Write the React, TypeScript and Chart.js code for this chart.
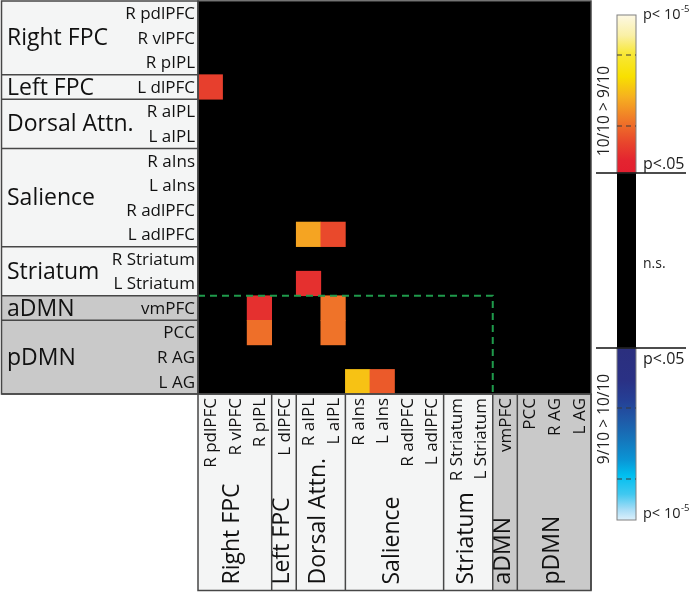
import React, { useEffect, useRef } from "react";
import { Chart, registerables } from "chart.js";

Chart.register(...registerables);

// ---- data ----
const regions = [
  "R pdlPFC", "R vlPFC", "R pIPL", "L dlPFC", "R aIPL", "L aIPL",
  "R aIns", "L aIns", "R adlPFC", "L adlPFC", "R Striatum", "L Striatum",
  "vmPFC", "PCC", "R AG", "L AG",
];
const groupNames = ["Right FPC", "Left FPC", "Dorsal Attn.", "Salience", "Striatum", "aDMN", "pDMN"];
const groupSizes = [3, 1, 2, 4, 2, 1, 3];
const groupShaded = [false, false, false, false, false, true, true];

// significant cells: row index, column index, strength (0 = p<.05 ... 1 = p<1e-5), 10/10 > 9/10
const cellRows = [3, 9, 9, 11, 12, 13, 12, 13, 15, 15];
const cellCols = [0, 4, 5, 4, 2, 2, 5, 5, 6, 7];
const cellLevels = [0.17, 0.45, 0.2, 0.12, 0.12, 0.31, 0.32, 0.32, 0.53, 0.25];

// dashed box around DMN rows
const boxRowStart = 12;
const boxColEnd = 12;

// colour scales
const warmStops: [number, string][] = [
  [0, "#E31E2F"], [0.08, "#E42430"], [0.19, "#E8452C"], [0.34, "#F07A28"],
  [0.48, "#F6B020"], [0.61, "#F8E000"], [0.76, "#F8E83A"], [0.87, "#FAF0A5"], [1, "#FDF8E4"],
];
const coolStops: [number, string][] = [
  [0, "#2B2F7E"], [0.19, "#2A3185"], [0.3, "#253F95"], [0.42, "#1F5AA8"], [0.53, "#1575BB"],
  [0.65, "#0A95D5"], [0.74, "#00BFF0"], [0.85, "#40C8F0"], [0.94, "#A8DDF6"], [1, "#DDF0FB"],
];

const FONT = "'Open Sans', 'Noto Sans', sans-serif";

function hex(c: string) {
  return [parseInt(c.slice(1, 3), 16), parseInt(c.slice(3, 5), 16), parseInt(c.slice(5, 7), 16)];
}
function sample(stops: [number, string][], t: number) {
  for (let i = 1; i < stops.length; i++) {
    if (t <= stops[i][0]) {
      const [p0, c0] = stops[i - 1];
      const [p1, c1] = stops[i];
      const f = (t - p0) / (p1 - p0);
      const a = hex(c0), b = hex(c1);
      const m = a.map((v, k) => Math.round(v + (b[k] - v) * f));
      return `rgb(${m[0]},${m[1]},${m[2]})`;
    }
  }
  return stops[stops.length - 1][1];
}

const panelPlugin = {
  id: "panels",
  beforeDatasetsDraw(chart: any) {
    const { ctx, chartArea: a } = chart;
    ctx.save();
    ctx.fillStyle = "#000";
    ctx.fillRect(a.left, a.top, a.right - a.left, a.bottom - a.top);
    ctx.restore();
  },
  afterDatasetsDraw(chart: any) {
    const { ctx, chartArea: a, scales } = chart;
    const xs = scales.x, ys = scales.y;
    const yT = ys.getPixelForValue(boxRowStart);
    const xR = xs.getPixelForValue(boxColEnd - 0.5);
    ctx.save();
    ctx.strokeStyle = "#1F9A4B";
    ctx.lineWidth = 2;
    ctx.setLineDash([7, 5]);
    ctx.beginPath();
    ctx.moveTo(a.left, yT);
    ctx.lineTo(xR, yT);
    ctx.lineTo(xR, a.bottom);
    ctx.stroke();
    ctx.restore();
  },
  afterDraw(chart: any) {
    const { ctx, chartArea: a, scales } = chart;
    const xs = scales.x, ys = scales.y;
    const light = "#F4F5F5", shade = "#C9C9C9", line = "#474747";
    const panelLeft = 1.5, panelBottom = 590.5;
    const groupFont = `23px ${FONT}`;
    const labelFont = `17px ${FONT}`;
    ctx.save();

    // ---- left panel ----
    let r0 = 0;
    groupNames.forEach((g, gi) => {
      const top = ys.getPixelForValue(r0);
      const bot = ys.getPixelForValue(r0 + groupSizes[gi]);
      ctx.fillStyle = groupShaded[gi] ? shade : light;
      ctx.fillRect(panelLeft, top, a.left - panelLeft, bot - top);
      ctx.fillStyle = "#111";
      ctx.font = groupFont;
      ctx.textAlign = "left";
      ctx.textBaseline = "middle";
      ctx.fillText(g, 7, (top + bot) / 2 + 1);
      r0 += groupSizes[gi];
    });
    ctx.font = labelFont;
    ctx.textAlign = "right";
    ctx.textBaseline = "middle";
    ctx.fillStyle = "#111";
    regions.forEach((name, i) => {
      ctx.fillText(name, a.left - 3, ys.getPixelForValue(i + 0.5) + 1);
    });
    ctx.strokeStyle = line;
    ctx.lineWidth = 1.5;
    r0 = 0;
    groupSizes.forEach((s) => {
      r0 += s;
      const yy = ys.getPixelForValue(r0);
      ctx.beginPath();
      ctx.moveTo(panelLeft, yy);
      ctx.lineTo(a.left, yy);
      ctx.stroke();
    });
    ctx.strokeRect(panelLeft, a.top, a.left - panelLeft, a.bottom - a.top);

    // ---- bottom panel ----
    let c0 = 0;
    groupNames.forEach((g, gi) => {
      const l = xs.getPixelForValue(c0 - 0.5);
      const r = xs.getPixelForValue(c0 + groupSizes[gi] - 0.5);
      ctx.fillStyle = groupShaded[gi] ? shade : light;
      ctx.fillRect(l, a.bottom, r - l, panelBottom - a.bottom);
      ctx.save();
      ctx.translate((l + r) / 2 - 2, panelBottom - 6);
      ctx.rotate(-Math.PI / 2);
      ctx.fillStyle = "#111";
      ctx.font = groupFont;
      ctx.textAlign = "left";
      ctx.textBaseline = "middle";
      ctx.fillText(g, 0, 0);
      ctx.restore();
      c0 += groupSizes[gi];
    });
    regions.forEach((name, i) => {
      ctx.save();
      ctx.translate(xs.getPixelForValue(i) + 1, a.bottom + 4);
      ctx.rotate(-Math.PI / 2);
      ctx.fillStyle = "#111";
      ctx.font = labelFont;
      ctx.textAlign = "right";
      ctx.textBaseline = "middle";
      ctx.fillText(name, 0, 0);
      ctx.restore();
    });
    ctx.strokeStyle = line;
    ctx.lineWidth = 1.5;
    c0 = 0;
    groupSizes.forEach((s) => {
      c0 += s;
      const xx = xs.getPixelForValue(c0 - 0.5);
      ctx.beginPath();
      ctx.moveTo(xx, a.bottom);
      ctx.lineTo(xx, panelBottom);
      ctx.stroke();
    });
    ctx.strokeRect(a.left, a.bottom, a.right - a.left, panelBottom - a.bottom);
    ctx.strokeRect(a.left, a.top, a.right - a.left, a.bottom - a.top);

    // ---- colour bar ----
    const bl = 617, bw = 19, t0 = 15, t1 = 173, t2 = 348, t3 = 520;
    const gw = ctx.createLinearGradient(0, t1, 0, t0);
    warmStops.forEach(([p, c]) => gw.addColorStop(p, c));
    ctx.fillStyle = gw;
    ctx.fillRect(bl, t0, bw, t1 - t0);
    ctx.fillStyle = "#000";
    ctx.fillRect(bl, t1, bw, t2 - t1);
    const gc = ctx.createLinearGradient(0, t2, 0, t3);
    coolStops.forEach(([p, c]) => gc.addColorStop(p, c));
    ctx.fillStyle = gc;
    ctx.fillRect(bl, t2, bw, t3 - t2);
    ctx.strokeStyle = "#808080";
    ctx.lineWidth = 1;
    ctx.strokeRect(bl, t0, bw, t1 - t0);
    ctx.strokeRect(bl, t2, bw, t3 - t2);
    // dashed ticks
    ctx.strokeStyle = "#3a3a3a";
    ctx.setLineDash([5, 4]);
    [55, 126, 408, 479].forEach((yy) => {
      ctx.beginPath();
      ctx.moveTo(bl, yy);
      ctx.lineTo(bl + bw, yy);
      ctx.stroke();
    });
    ctx.setLineDash([]);
    ctx.strokeStyle = "#111";
    ctx.lineWidth = 1.3;
    [t1, t2].forEach((yy) => {
      ctx.beginPath();
      ctx.moveTo(596, yy);
      ctx.lineTo(686, yy);
      ctx.stroke();
    });

    ctx.fillStyle = "#222";
    ctx.textAlign = "left";
    ctx.textBaseline = "alphabetic";
    const pLow = (yy: number) => {
      ctx.font = `14.5px ${FONT}`;
      ctx.fillText("p< 10", 643, yy);
      const w = ctx.measureText("p< 10").width;
      ctx.font = `9.5px ${FONT}`;
      ctx.fillText("-5", 643 + w + 0.5, yy - 7);
    };
    pLow(19);
    pLow(518);
    ctx.font = `16px ${FONT}`;
    ctx.fillText("p<.05", 643, 169);
    ctx.fillText("p<.05", 643, 364);
    ctx.font = `14px ${FONT}`;
    ctx.fillText("n.s.", 643, 268);

    ctx.font = `15.5px ${FONT}`;
    ctx.textAlign = "center";
    ctx.textBaseline = "middle";
    [["10/10 > 9/10", 111], ["9/10 > 10/10", 419]].forEach(([s, yy]) => {
      ctx.save();
      ctx.translate(605, yy as number);
      ctx.rotate(-Math.PI / 2);
      ctx.fillText(s as string, 0, 0);
      ctx.restore();
    });

    ctx.restore();
  },
};

export default function App() {
  const ref = useRef<HTMLCanvasElement | null>(null);
  useEffect(() => {
    if (!ref.current) return;
    const chart = new Chart(ref.current, {
      type: "bar",
      data: {
        labels: regions,
        datasets: [
          {
            data: cellRows.map((r, i) => ({ x: regions[cellCols[i]], y: [r, r + 1] })) as any,
            backgroundColor: cellLevels.map((v) => sample(warmStops, v)),
            borderWidth: 0,
            categoryPercentage: 1,
            barPercentage: 1,
            grouped: false,
          } as any,
        ],
      },
      options: {
        animation: false,
        responsive: false,
        maintainAspectRatio: false,
        layout: { padding: { left: 198, top: 1, right: 102, bottom: 199 } },
        scales: {
          x: { type: "category", display: false, offset: true },
          y: { type: "linear", min: 0, max: 16, reverse: true, display: false },
        },
        plugins: { legend: { display: false }, tooltip: { enabled: false } },
      },
      plugins: [panelPlugin],
    });
    return () => chart.destroy();
  }, []);
  return (
    <div style={{ position: "absolute", left: 0, top: 0, width: 693, height: 593, background: "#fff" }}>
      <canvas ref={ref} width={693} height={593} style={{ width: 693, height: 593 }} />
    </div>
  );
}
